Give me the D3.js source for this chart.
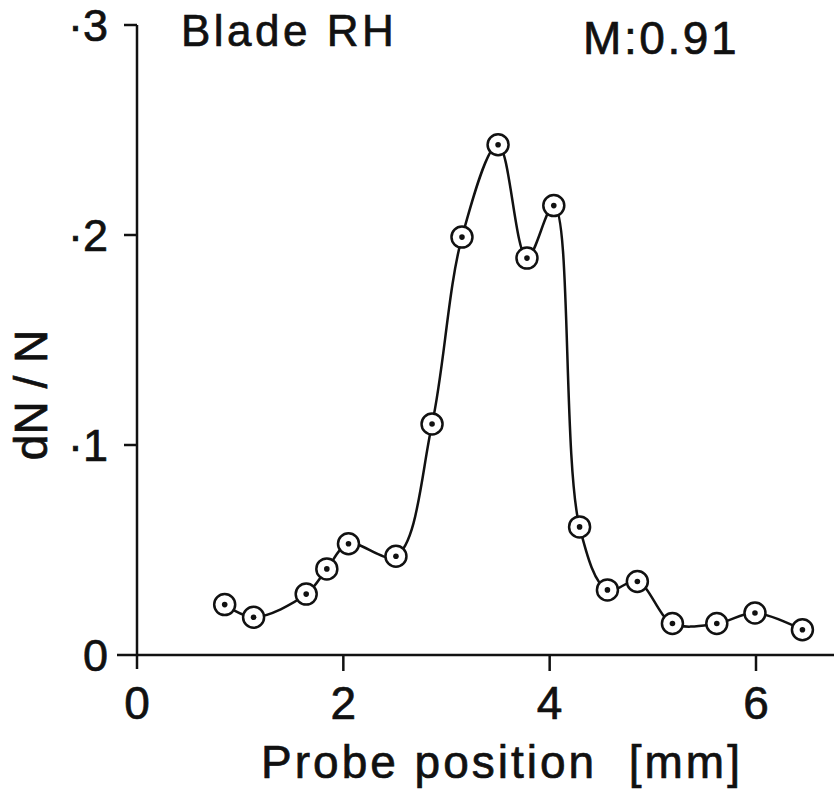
<!DOCTYPE html>
<html>
<head>
<meta charset="utf-8">
<script src="https://cdn.jsdelivr.net/npm/d3@7"></script>
<style>
  html, body { margin: 0; padding: 0; background: #fff; }
  svg { display: block; }
  text { font-family: "Liberation Sans", Arial, Helvetica, sans-serif; fill: #111; stroke: #111; stroke-width: 0.7px; }
</style>
</head>
<body>
<svg id="chart" width="834" height="789"></svg>
<script>
// ---- data ----
const positions = [0.85, 1.13, 1.64, 1.84, 2.05, 2.51, 2.86, 3.15, 3.50, 3.78, 4.04, 4.29, 4.56, 4.85, 5.19, 5.62, 5.99, 6.45];
const dNN       = [0.024, 0.018, 0.029, 0.041, 0.053, 0.047, 0.110, 0.199, 0.243, 0.189, 0.214, 0.061, 0.031, 0.035, 0.015, 0.015, 0.020, 0.012];
const xTicks = [0, 2, 4, 6];
const xTickLabels = ["0", "2", "4", "6"];
const yTicks = [0, 0.1, 0.2, 0.3];
const yTickLabels = ["0", "·1", "·2", "·3"];
const titleLeft = "Blade RH";
const titleRight = "M:0.91";
const xLabel = "Probe position  [mm]";
const yLabel = "dN / N";

// ---- layout ----
const svg = d3.select("#chart");
svg.append("rect").attr("width", 834).attr("height", 789).attr("fill", "#fff");

const x = d3.scaleLinear().domain([0, 6]).range([137, 756]);
const y = d3.scaleLinear().domain([0, 0.3]).range([655, 25]);

const ink = "#111";

// x axis line (extends past both ends)
svg.append("line")
  .attr("x1", 117).attr("x2", 834)
  .attr("y1", y(0)).attr("y2", y(0))
  .attr("stroke", ink).attr("stroke-width", 2.5);

// y axis line
svg.append("line")
  .attr("x1", x(0)).attr("x2", x(0))
  .attr("y1", y(0.3)).attr("y2", y(0) + 14)
  .attr("stroke", ink).attr("stroke-width", 2.5);

// x ticks
const xAxisG = svg.append("g");
xAxisG.selectAll("line.xt").data(xTicks.filter(d => d > 0)).join("line")
  .attr("x1", d => x(d)).attr("x2", d => x(d))
  .attr("y1", y(0)).attr("y2", y(0) + 16)
  .attr("stroke", ink).attr("stroke-width", 2.5);
xAxisG.selectAll("text.xt").data(xTicks).join("text")
  .attr("x", d => x(d)).attr("y", 719)
  .attr("text-anchor", "middle")
  .attr("font-size", 46)
  .text((d, i) => xTickLabels[i]);

// y ticks
const yAxisG = svg.append("g");
yAxisG.selectAll("line.yt").data(yTicks.filter(d => d > 0)).join("line")
  .attr("x1", x(0) - 13).attr("x2", x(0))
  .attr("y1", d => y(d)).attr("y2", d => y(d))
  .attr("stroke", ink).attr("stroke-width", 2.5);
yAxisG.selectAll("text.yt").data(yTicks).join("text")
  .attr("x", 108).attr("y", d => y(d) + 16)
  .attr("text-anchor", "end")
  .attr("font-size", 45)
  .text((d, i) => yTickLabels[i]);

// titles
svg.append("text").attr("x", 181).attr("y", 46)
  .attr("font-size", 44).attr("letter-spacing", 3.5).text(titleLeft);
svg.append("text").attr("x", 583).attr("y", 54)
  .attr("font-size", 46).attr("letter-spacing", 2.6).text(titleRight);

// axis labels
svg.append("text").attr("x", 502).attr("y", 778)
  .attr("text-anchor", "middle")
  .attr("font-size", 46).attr("letter-spacing", 3)
  .style("white-space", "pre")
  .text(xLabel);
svg.append("text")
  .attr("transform", "translate(47,395) rotate(-90)")
  .attr("text-anchor", "middle")
  .attr("font-size", 46)
  .style("white-space", "pre")
  .text(yLabel);

// curve
const pts = positions.map((p, i) => [p, dNN[i]]);
const line = d3.line().x(d => x(d[0])).y(d => y(d[1])).curve(d3.curveCatmullRom.alpha(0.5));
svg.append("path").attr("d", line(pts))
  .attr("fill", "none").attr("stroke", ink).attr("stroke-width", 2.5);

// markers
const mk = svg.append("g");
mk.selectAll("circle.o").data(pts).join("circle")
  .attr("cx", d => x(d[0])).attr("cy", d => y(d[1])).attr("r", 10.5)
  .attr("fill", "#fff").attr("stroke", ink).attr("stroke-width", 2.5);
mk.selectAll("circle.d").data(pts).join("circle")
  .attr("cx", d => x(d[0])).attr("cy", d => y(d[1])).attr("r", 2.8)
  .attr("fill", ink);
</script>
</body>
</html>
